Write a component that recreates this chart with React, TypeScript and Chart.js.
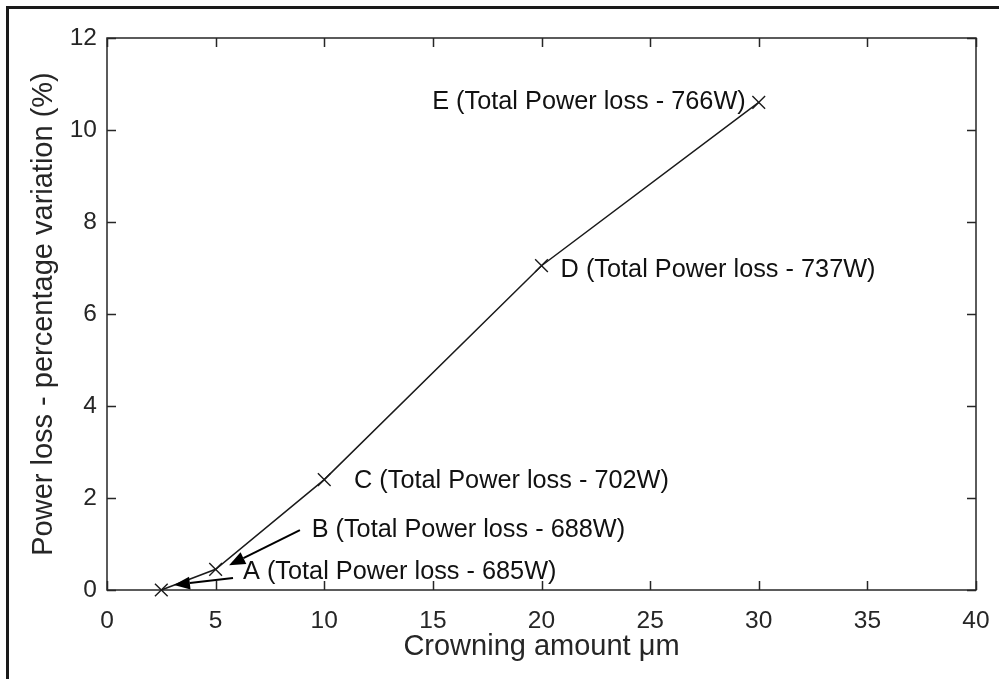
import React, { useEffect, useRef } from "react";
import { Chart, registerables } from "chart.js";

Chart.register(...registerables);

// ---- data ----
const crowningUm = [2.5, 5, 10, 20, 30];
const powerLossPct = [0, 0.45, 2.4, 7.05, 10.6];

const xTicks = [0, 5, 10, 15, 20, 25, 30, 35, 40];
const yTicks = [0, 2, 4, 6, 8, 10, 12];

const noteTexts = [
  "A (Total Power loss - 685W)",
  "B (Total Power loss - 688W)",
  "C (Total Power loss - 702W)",
  "D (Total Power loss - 737W)",
  "E (Total Power loss - 766W)",
];
// annotation anchors (data units): x, vertical centre y, alignment
const noteX = [6.26, 9.42, 11.37, 20.88, 29.4];
const noteY = [0.39, 1.3, 2.37, 6.96, 10.6];
const noteAlign = ["left", "left", "left", "left", "right"];

// arrows (data units): tail -> tip
const arrowFromX = [5.8, 8.88];
const arrowFromY = [0.26, 1.3];
const arrowToX = [3.08, 5.62];
const arrowToY = [0.11, 0.54];

const FONT = '"Liberation Sans", Arial, Helvetica, sans-serif';

const decorPlugin = {
  id: "decor",
  beforeDatasetsDraw(chart: any) {
    const { ctx, chartArea: a, scales } = chart;
    const x = scales.x;
    const y = scales.y;
    ctx.save();
    ctx.strokeStyle = "#262626";
    ctx.lineWidth = 1.5;
    ctx.strokeRect(a.left, a.top, a.right - a.left, a.bottom - a.top);
    const tl = 9;
    ctx.beginPath();
    xTicks.forEach((v) => {
      const px = Math.round(x.getPixelForValue(v)) + 0.5;
      ctx.moveTo(px, a.bottom);
      ctx.lineTo(px, a.bottom - tl);
      ctx.moveTo(px, a.top);
      ctx.lineTo(px, a.top + tl);
    });
    yTicks.forEach((v) => {
      const py = Math.round(y.getPixelForValue(v)) + 0.5;
      ctx.moveTo(a.left, py);
      ctx.lineTo(a.left + tl, py);
      ctx.moveTo(a.right, py);
      ctx.lineTo(a.right - tl, py);
    });
    ctx.stroke();
    ctx.restore();
  },
  afterDatasetsDraw(chart: any) {
    const { ctx, scales } = chart;
    const x = scales.x;
    const y = scales.y;
    ctx.save();
    ctx.fillStyle = "#111";
    ctx.font = "25.3px " + FONT;
    ctx.textBaseline = "middle";
    noteTexts.forEach((t, i) => {
      ctx.textAlign = noteAlign[i] as CanvasTextAlign;
      ctx.fillText(t, x.getPixelForValue(noteX[i]), y.getPixelForValue(noteY[i]));
    });
    // arrows
    ctx.strokeStyle = "#000";
    ctx.fillStyle = "#000";
    ctx.lineWidth = 2;
    arrowFromX.forEach((_, i) => {
      const x1 = x.getPixelForValue(arrowFromX[i]);
      const y1 = y.getPixelForValue(arrowFromY[i]);
      const x2 = x.getPixelForValue(arrowToX[i]);
      const y2 = y.getPixelForValue(arrowToY[i]);
      const ang = Math.atan2(y2 - y1, x2 - x1);
      const hl = 16;
      const hw = 6.5;
      const bx = x2 - hl * Math.cos(ang);
      const by = y2 - hl * Math.sin(ang);
      ctx.beginPath();
      ctx.moveTo(x1, y1);
      ctx.lineTo(bx, by);
      ctx.stroke();
      ctx.beginPath();
      ctx.moveTo(x2, y2);
      ctx.lineTo(bx + hw * Math.sin(ang), by - hw * Math.cos(ang));
      ctx.lineTo(bx - hw * Math.sin(ang), by + hw * Math.cos(ang));
      ctx.closePath();
      ctx.fill();
    });
    ctx.restore();
  },
};

export default function App() {
  const ref = useRef<HTMLCanvasElement | null>(null);

  useEffect(() => {
    if (!ref.current) return;
    const chart = new Chart(ref.current, {
      type: "line",
      data: {
        datasets: [
          {
            data: crowningUm.map((v, i) => ({ x: v, y: powerLossPct[i] })),
            borderColor: "#1a1a1a",
            borderWidth: 1.5,
            pointStyle: "crossRot",
            pointRadius: 9,
            pointBorderWidth: 1.4,
            pointBorderColor: "#1a1a1a",
            pointBackgroundColor: "#1a1a1a",
            tension: 0,
            clip: false as any,
          },
        ],
      },
      options: {
        responsive: false,
        animation: false,
        devicePixelRatio: 1,
        layout: { padding: { top: 38, right: 23, left: 0, bottom: 0 } },
        plugins: { legend: { display: false }, tooltip: { enabled: false } },
        scales: {
          x: {
            type: "linear",
            min: 0,
            max: 40,
            afterFit: (s: any) => {
              s.height = 89;
              s.paddingLeft = 0;
              s.paddingRight = 0;
            },
            afterBuildTicks: (s: any) => {
              s.ticks = xTicks.map((v) => ({ value: v }));
            },
            grid: { display: false, drawTicks: false },
            border: { display: false },
            ticks: {
              padding: 17,
              color: "#262626",
              font: { family: FONT, size: 24.5 },
              maxRotation: 0,
            },
            title: {
              display: true,
              text: "Crowning amount μm",
              color: "#262626",
              font: { family: FONT, size: 29 },
              padding: { top: 0, bottom: 15 },
            },
          },
          y: {
            type: "linear",
            min: 0,
            max: 12,
            afterFit: (s: any) => {
              s.width = 107;
              s.paddingTop = 0;
              s.paddingBottom = 0;
            },
            afterBuildTicks: (s: any) => {
              s.ticks = yTicks.map((v) => ({ value: v }));
            },
            grid: { display: false, drawTicks: false },
            border: { display: false },
            ticks: {
              padding: 10,
              color: "#262626",
              font: { family: FONT, size: 24.5 },
            },
            title: {
              display: true,
              text: "Power loss - percentage variation (%)",
              color: "#262626",
              font: { family: FONT, size: 29 },
              padding: { top: 27, bottom: 0 },
            },
          },
        },
      },
      plugins: [decorPlugin],
    });
    return () => chart.destroy();
  }, []);

  return (
    <div style={{ position: "fixed", left: 0, top: 0, width: 999, height: 679, background: "#fff" }}>
      <canvas ref={ref} width={999} height={679} style={{ position: "absolute", left: 0, top: 0 }} />
      <div
        style={{
          position: "absolute",
          left: 6,
          top: 6,
          right: 0,
          bottom: 0,
          borderLeft: "3px solid #1a1a1a",
          borderTop: "3px solid #1a1a1a",
          pointerEvents: "none",
        }}
      />
    </div>
  );
}
